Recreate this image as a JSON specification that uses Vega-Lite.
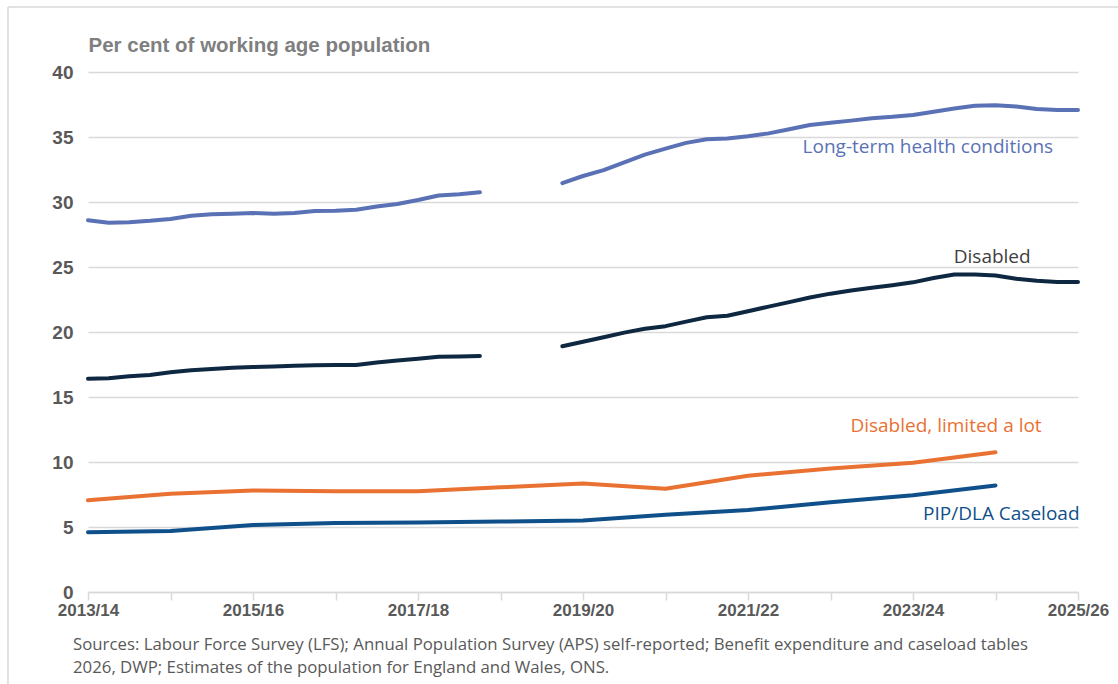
{
  "$schema": "https://vega.github.io/schema/vega-lite/v6.json",
  "width": 990,
  "height": 520,
  "autosize": {"type": "none"},
  "padding": {"left": 88, "top": 72, "right": 40, "bottom": 92},
  "background": "white",
  "config": {
    "view": {"stroke": null},
    "font": "Liberation Sans"
  },
  "title": {
    "text": ["Sources: Labour Force Survey (LFS); Annual Population Survey (APS) self-reported; Benefit expenditure and caseload tables", "2026, DWP; Estimates of the population for England and Wales, ONS."],
    "orient": "bottom",
    "anchor": "start",
    "frame": "group",
    "dx": -15,
    "offset": -51,
    "font": "Open Sans",
    "fontSize": 16.8,
    "fontWeight": "normal",
    "color": "#595959",
    "lineHeight": 23,
    "baseline": "top"
  },
  "datasets": {
    "series": [
      {"series": "Long-term health conditions", "seg": 1, "x": 2013.0, "y": 28.6},
      {"series": "Long-term health conditions", "seg": 1, "x": 2013.25, "y": 28.4},
      {"series": "Long-term health conditions", "seg": 1, "x": 2013.5, "y": 28.45},
      {"series": "Long-term health conditions", "seg": 1, "x": 2013.75, "y": 28.55},
      {"series": "Long-term health conditions", "seg": 1, "x": 2014.0, "y": 28.7},
      {"series": "Long-term health conditions", "seg": 1, "x": 2014.25, "y": 28.95},
      {"series": "Long-term health conditions", "seg": 1, "x": 2014.5, "y": 29.05},
      {"series": "Long-term health conditions", "seg": 1, "x": 2014.75, "y": 29.1},
      {"series": "Long-term health conditions", "seg": 1, "x": 2015.0, "y": 29.15},
      {"series": "Long-term health conditions", "seg": 1, "x": 2015.25, "y": 29.1},
      {"series": "Long-term health conditions", "seg": 1, "x": 2015.5, "y": 29.15},
      {"series": "Long-term health conditions", "seg": 1, "x": 2015.75, "y": 29.3},
      {"series": "Long-term health conditions", "seg": 1, "x": 2016.0, "y": 29.33},
      {"series": "Long-term health conditions", "seg": 1, "x": 2016.25, "y": 29.4},
      {"series": "Long-term health conditions", "seg": 1, "x": 2016.5, "y": 29.65},
      {"series": "Long-term health conditions", "seg": 1, "x": 2016.75, "y": 29.85},
      {"series": "Long-term health conditions", "seg": 1, "x": 2017.0, "y": 30.15},
      {"series": "Long-term health conditions", "seg": 1, "x": 2017.25, "y": 30.5},
      {"series": "Long-term health conditions", "seg": 1, "x": 2017.5, "y": 30.6},
      {"series": "Long-term health conditions", "seg": 1, "x": 2017.75, "y": 30.75},
      {"series": "Long-term health conditions", "seg": 2, "x": 2018.75, "y": 31.45},
      {"series": "Long-term health conditions", "seg": 2, "x": 2019.0, "y": 32.0},
      {"series": "Long-term health conditions", "seg": 2, "x": 2019.25, "y": 32.45},
      {"series": "Long-term health conditions", "seg": 2, "x": 2019.5, "y": 33.05},
      {"series": "Long-term health conditions", "seg": 2, "x": 2019.75, "y": 33.65},
      {"series": "Long-term health conditions", "seg": 2, "x": 2020.0, "y": 34.1},
      {"series": "Long-term health conditions", "seg": 2, "x": 2020.25, "y": 34.55},
      {"series": "Long-term health conditions", "seg": 2, "x": 2020.5, "y": 34.82},
      {"series": "Long-term health conditions", "seg": 2, "x": 2020.75, "y": 34.88},
      {"series": "Long-term health conditions", "seg": 2, "x": 2021.0, "y": 35.05},
      {"series": "Long-term health conditions", "seg": 2, "x": 2021.25, "y": 35.28},
      {"series": "Long-term health conditions", "seg": 2, "x": 2021.5, "y": 35.6},
      {"series": "Long-term health conditions", "seg": 2, "x": 2021.75, "y": 35.92},
      {"series": "Long-term health conditions", "seg": 2, "x": 2022.0, "y": 36.1},
      {"series": "Long-term health conditions", "seg": 2, "x": 2022.25, "y": 36.26},
      {"series": "Long-term health conditions", "seg": 2, "x": 2022.5, "y": 36.45},
      {"series": "Long-term health conditions", "seg": 2, "x": 2022.75, "y": 36.55},
      {"series": "Long-term health conditions", "seg": 2, "x": 2023.0, "y": 36.7},
      {"series": "Long-term health conditions", "seg": 2, "x": 2023.25, "y": 36.95},
      {"series": "Long-term health conditions", "seg": 2, "x": 2023.5, "y": 37.2},
      {"series": "Long-term health conditions", "seg": 2, "x": 2023.75, "y": 37.4},
      {"series": "Long-term health conditions", "seg": 2, "x": 2024.0, "y": 37.45},
      {"series": "Long-term health conditions", "seg": 2, "x": 2024.25, "y": 37.35},
      {"series": "Long-term health conditions", "seg": 2, "x": 2024.5, "y": 37.15},
      {"series": "Long-term health conditions", "seg": 2, "x": 2024.75, "y": 37.08},
      {"series": "Long-term health conditions", "seg": 2, "x": 2025.0, "y": 37.08},
      {"series": "Disabled", "seg": 1, "x": 2013.0, "y": 16.4},
      {"series": "Disabled", "seg": 1, "x": 2013.25, "y": 16.45},
      {"series": "Disabled", "seg": 1, "x": 2013.5, "y": 16.6},
      {"series": "Disabled", "seg": 1, "x": 2013.75, "y": 16.7},
      {"series": "Disabled", "seg": 1, "x": 2014.0, "y": 16.9},
      {"series": "Disabled", "seg": 1, "x": 2014.25, "y": 17.05},
      {"series": "Disabled", "seg": 1, "x": 2014.5, "y": 17.15},
      {"series": "Disabled", "seg": 1, "x": 2014.75, "y": 17.25},
      {"series": "Disabled", "seg": 1, "x": 2015.0, "y": 17.3},
      {"series": "Disabled", "seg": 1, "x": 2015.25, "y": 17.35},
      {"series": "Disabled", "seg": 1, "x": 2015.5, "y": 17.4},
      {"series": "Disabled", "seg": 1, "x": 2015.75, "y": 17.45},
      {"series": "Disabled", "seg": 1, "x": 2016.0, "y": 17.46},
      {"series": "Disabled", "seg": 1, "x": 2016.25, "y": 17.46},
      {"series": "Disabled", "seg": 1, "x": 2016.5, "y": 17.65},
      {"series": "Disabled", "seg": 1, "x": 2016.75, "y": 17.8},
      {"series": "Disabled", "seg": 1, "x": 2017.0, "y": 17.95},
      {"series": "Disabled", "seg": 1, "x": 2017.25, "y": 18.1},
      {"series": "Disabled", "seg": 1, "x": 2017.5, "y": 18.12},
      {"series": "Disabled", "seg": 1, "x": 2017.75, "y": 18.15},
      {"series": "Disabled", "seg": 2, "x": 2018.75, "y": 18.9},
      {"series": "Disabled", "seg": 2, "x": 2019.0, "y": 19.25},
      {"series": "Disabled", "seg": 2, "x": 2019.25, "y": 19.6},
      {"series": "Disabled", "seg": 2, "x": 2019.5, "y": 19.95},
      {"series": "Disabled", "seg": 2, "x": 2019.75, "y": 20.25},
      {"series": "Disabled", "seg": 2, "x": 2020.0, "y": 20.45},
      {"series": "Disabled", "seg": 2, "x": 2020.25, "y": 20.8},
      {"series": "Disabled", "seg": 2, "x": 2020.5, "y": 21.13},
      {"series": "Disabled", "seg": 2, "x": 2020.75, "y": 21.25},
      {"series": "Disabled", "seg": 2, "x": 2021.0, "y": 21.6},
      {"series": "Disabled", "seg": 2, "x": 2021.25, "y": 21.95},
      {"series": "Disabled", "seg": 2, "x": 2021.5, "y": 22.3},
      {"series": "Disabled", "seg": 2, "x": 2021.75, "y": 22.65},
      {"series": "Disabled", "seg": 2, "x": 2022.0, "y": 22.95},
      {"series": "Disabled", "seg": 2, "x": 2022.25, "y": 23.2},
      {"series": "Disabled", "seg": 2, "x": 2022.5, "y": 23.4},
      {"series": "Disabled", "seg": 2, "x": 2022.75, "y": 23.6},
      {"series": "Disabled", "seg": 2, "x": 2023.0, "y": 23.82},
      {"series": "Disabled", "seg": 2, "x": 2023.25, "y": 24.15},
      {"series": "Disabled", "seg": 2, "x": 2023.5, "y": 24.42},
      {"series": "Disabled", "seg": 2, "x": 2023.75, "y": 24.42},
      {"series": "Disabled", "seg": 2, "x": 2024.0, "y": 24.35},
      {"series": "Disabled", "seg": 2, "x": 2024.25, "y": 24.1},
      {"series": "Disabled", "seg": 2, "x": 2024.5, "y": 23.95},
      {"series": "Disabled", "seg": 2, "x": 2024.75, "y": 23.85},
      {"series": "Disabled", "seg": 2, "x": 2025.0, "y": 23.85},
      {"series": "Disabled, limited a lot", "seg": 1, "x": 2013, "y": 7.05},
      {"series": "Disabled, limited a lot", "seg": 1, "x": 2014, "y": 7.55},
      {"series": "Disabled, limited a lot", "seg": 1, "x": 2015, "y": 7.8},
      {"series": "Disabled, limited a lot", "seg": 1, "x": 2016, "y": 7.75},
      {"series": "Disabled, limited a lot", "seg": 1, "x": 2017, "y": 7.75},
      {"series": "Disabled, limited a lot", "seg": 1, "x": 2018, "y": 8.05},
      {"series": "Disabled, limited a lot", "seg": 1, "x": 2019, "y": 8.35},
      {"series": "Disabled, limited a lot", "seg": 1, "x": 2020, "y": 7.95},
      {"series": "Disabled, limited a lot", "seg": 1, "x": 2021, "y": 8.95},
      {"series": "Disabled, limited a lot", "seg": 1, "x": 2022, "y": 9.5},
      {"series": "Disabled, limited a lot", "seg": 1, "x": 2023, "y": 9.95},
      {"series": "Disabled, limited a lot", "seg": 1, "x": 2024, "y": 10.75},
      {"series": "PIP/DLA Caseload", "seg": 1, "x": 2013, "y": 4.6},
      {"series": "PIP/DLA Caseload", "seg": 1, "x": 2014, "y": 4.7},
      {"series": "PIP/DLA Caseload", "seg": 1, "x": 2015, "y": 5.15},
      {"series": "PIP/DLA Caseload", "seg": 1, "x": 2016, "y": 5.3},
      {"series": "PIP/DLA Caseload", "seg": 1, "x": 2017, "y": 5.35},
      {"series": "PIP/DLA Caseload", "seg": 1, "x": 2018, "y": 5.42},
      {"series": "PIP/DLA Caseload", "seg": 1, "x": 2019, "y": 5.5},
      {"series": "PIP/DLA Caseload", "seg": 1, "x": 2020, "y": 5.95},
      {"series": "PIP/DLA Caseload", "seg": 1, "x": 2021, "y": 6.3},
      {"series": "PIP/DLA Caseload", "seg": 1, "x": 2022, "y": 6.9},
      {"series": "PIP/DLA Caseload", "seg": 1, "x": 2023, "y": 7.45},
      {"series": "PIP/DLA Caseload", "seg": 1, "x": 2024, "y": 8.2}
    ]
  },
  "layer": [
    {
      "data": {"values": [{"x": 2012.03, "y": 45, "y2": -7.3}]},
      "mark": {"type": "rule", "stroke": "#d9d9d9", "strokeWidth": 1.5, "clip": false},
      "encoding": {
        "x": {"field": "x", "type": "quantitative", "scale": {"domain": [2013, 2025], "nice": false, "zero": false}},
        "y": {"field": "y", "type": "quantitative", "scale": {"domain": [0, 40], "nice": false}},
        "y2": {"field": "y2"}
      }
    },
    {
      "data": {"values": [{"x": 2012.03, "x2": 2025.6, "y": 45}]},
      "mark": {"type": "rule", "stroke": "#d9d9d9", "strokeWidth": 1.5, "clip": false},
      "encoding": {
        "x": {"field": "x", "type": "quantitative"},
        "x2": {"field": "x2"},
        "y": {"field": "y", "type": "quantitative"}
      }
    },
    {
      "data": {"name": "series"},
      "mark": {"type": "line", "strokeWidth": 4, "strokeCap": "round", "strokeJoin": "round"},
      "encoding": {
        "x": {
          "field": "x", "type": "quantitative",
          "scale": {"domain": [2013, 2025], "nice": false, "zero": false},
          "axis": {
            "title": null,
            "values": [2013, 2014, 2015, 2016, 2017, 2018, 2019, 2020, 2021, 2022, 2023, 2024, 2025],
            "labelExpr": "datum.value % 2 == 1 ? datum.value + '/' + substring(toString(datum.value + 1), 2, 4) : ''",
            "grid": false,
            "domainColor": "#d9d9d9",
            "domainWidth": 1.5,
            "tickColor": "#d9d9d9",
            "tickWidth": 1.5,
            "tickSize": 8,
            "labelFont": "Liberation Sans",
            "labelFontWeight": "bold",
            "labelFontSize": 17,
            "labelColor": "#595959",
            "labelPadding": 2,
            "labelOverlap": false,
            "labelFlush": false
          }
        },
        "y": {
          "field": "y", "type": "quantitative",
          "scale": {"domain": [0, 40], "nice": false},
          "axis": {
            "title": "Per cent of working age population",
            "titleAngle": 0,
            "titleAlign": "left",
            "titleBaseline": "middle",
            "titleX": 0,
            "titleY": -27,
            "titleFont": "Liberation Sans",
            "titleFontWeight": "bold",
            "titleFontSize": 20.5,
            "titleColor": "#7f7f7f",
            "values": [0, 5, 10, 15, 20, 25, 30, 35, 40],
            "domain": false,
            "ticks": false,
            "gridColor": "#d9d9d9",
            "gridWidth": 1.5,
            "labelFont": "Liberation Sans",
            "labelFontWeight": "bold",
            "labelFontSize": 19,
            "labelColor": "#595959",
            "labelPadding": 15
          }
        },
        "color": {
          "field": "series", "type": "nominal", "legend": null,
          "scale": {
            "domain": ["Long-term health conditions", "Disabled", "Disabled, limited a lot", "PIP/DLA Caseload"],
            "range": ["#5a72b5", "#0e2841", "#e97132", "#0f4f8a"]
          }
        },
        "detail": {"field": "seg", "type": "nominal"}
      }
    },
    {
      "data": {"values": [{"label": "Long-term health conditions", "x": 2023.18, "y": 34.25}]},
      "mark": {"type": "text", "font": "Open Sans", "fontSize": 19, "color": "#5a72b5", "align": "center", "baseline": "middle"},
      "encoding": {"x": {"field": "x", "type": "quantitative"}, "y": {"field": "y", "type": "quantitative"}, "text": {"field": "label"}}
    },
    {
      "data": {"values": [{"label": "Disabled", "x": 2023.96, "y": 25.77}]},
      "mark": {"type": "text", "font": "Open Sans", "fontSize": 19, "color": "#404040", "align": "center", "baseline": "middle"},
      "encoding": {"x": {"field": "x", "type": "quantitative"}, "y": {"field": "y", "type": "quantitative"}, "text": {"field": "label"}}
    },
    {
      "data": {"values": [{"label": "Disabled, limited a lot", "x": 2023.4, "y": 12.77}]},
      "mark": {"type": "text", "font": "Open Sans", "fontSize": 19, "color": "#e97132", "align": "center", "baseline": "middle"},
      "encoding": {"x": {"field": "x", "type": "quantitative"}, "y": {"field": "y", "type": "quantitative"}, "text": {"field": "label"}}
    },
    {
      "data": {"values": [{"label": "PIP/DLA Caseload", "x": 2024.07, "y": 6.0}]},
      "mark": {"type": "text", "font": "Open Sans", "fontSize": 19, "color": "#0f4f8a", "align": "center", "baseline": "middle"},
      "encoding": {"x": {"field": "x", "type": "quantitative"}, "y": {"field": "y", "type": "quantitative"}, "text": {"field": "label"}}
    }
  ]
}
